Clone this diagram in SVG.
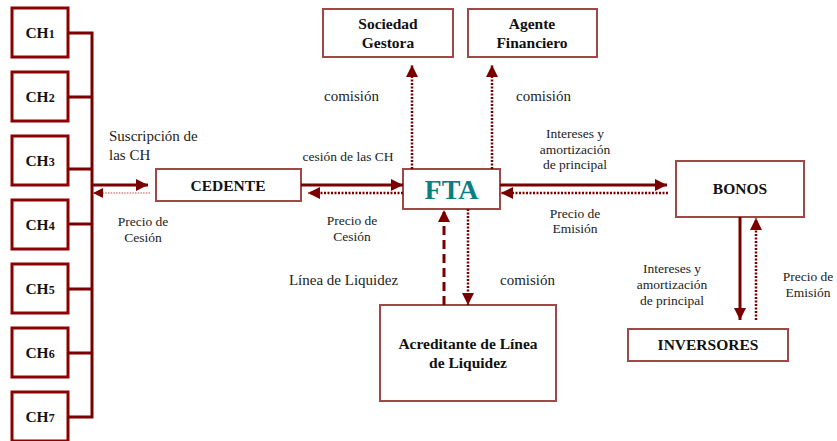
<svg xmlns="http://www.w3.org/2000/svg" width="837" height="441" viewBox="0 0 837 441">
<defs>
<marker id="ah" markerUnits="userSpaceOnUse" markerWidth="13" markerHeight="13" refX="12" refY="6" orient="auto" viewBox="0 0 13 13">
<path d="M0,0 L12,6 L0,12 z" fill="#7a0000" stroke="none"/>
</marker>
<marker id="ahs" markerUnits="userSpaceOnUse" markerWidth="11" markerHeight="11" refX="10" refY="5" orient="auto" viewBox="0 0 11 11">
<path d="M0,0 L10,5 L0,10 z" fill="#7a0000" stroke="none"/>
</marker>
</defs>
<style>
.box{fill:#fff;stroke:#a04848;stroke-width:2}
.chbox{fill:#fff;stroke:#8b0000;stroke-width:3}
.shadow{fill:none;stroke:#e8b8b8;stroke-width:1.5}
.nt{font-family:"Liberation Serif",serif;font-weight:bold;font-size:15.5px;fill:#111;text-anchor:middle}
.lbl{font-family:"Liberation Serif",serif;font-size:13.5px;fill:#222;text-anchor:middle}
.lbm{font-family:"Liberation Serif",serif;font-size:15px;fill:#222}
.solid{stroke:#7a0000;stroke-width:3;fill:none}
.dot{stroke:#7a0000;stroke-width:2.5;stroke-dasharray:2 1.5;fill:none}
.thin{stroke:#b05050;stroke-width:1.2;stroke-dasharray:1.5 1.2;fill:none}
.dash{stroke:#7a0000;stroke-width:3;stroke-dasharray:9 5;fill:none}
</style>

<g id="ch1"><rect class="chbox" x="12" y="8" width="56" height="49"/><text class="nt" x="40" y="38">CH<tspan font-size="12">1</tspan></text></g>
<g id="ch2"><rect class="chbox" x="12" y="72" width="56" height="49"/><text class="nt" x="40" y="102">CH<tspan font-size="12">2</tspan></text></g>
<g id="ch3"><rect class="chbox" x="12" y="136" width="56" height="49"/><text class="nt" x="40" y="166">CH<tspan font-size="12">3</tspan></text></g>
<g id="ch4"><rect class="chbox" x="12" y="200" width="56" height="49"/><text class="nt" x="40" y="230">CH<tspan font-size="12">4</tspan></text></g>
<g id="ch5"><rect class="chbox" x="12" y="264" width="56" height="49"/><text class="nt" x="40" y="294">CH<tspan font-size="12">5</tspan></text></g>
<g id="ch6"><rect class="chbox" x="12" y="328" width="56" height="49"/><text class="nt" x="40" y="358">CH<tspan font-size="12">6</tspan></text></g>
<g id="ch7"><rect class="chbox" x="12" y="392" width="56" height="49"/><text class="nt" x="40" y="422">CH<tspan font-size="12">7</tspan></text></g>

<g id="cedente"><rect class="box" x="156" y="169" width="145" height="32"/><text class="nt" x="228" y="191">CEDENTE</text></g>
<g id="fta"><rect class="box" x="403" y="169" width="97" height="40"/><text x="451.5" y="199" text-anchor="middle" font-family="Liberation Serif, serif" font-weight="bold" font-size="28" fill="#0a7f7f">FTA</text></g>
<g id="bonos"><rect class="box" x="676" y="161" width="128" height="56"/><text class="nt" x="740" y="194">BONOS</text></g>
<g id="inversores"><rect class="box" x="628" y="329" width="160" height="32"/><text class="nt" x="708" y="350">INVERSORES</text></g>
<g id="gestora"><rect class="box" x="323" y="9" width="130" height="48"/><text class="nt" x="388" y="29">Sociedad</text><text class="nt" x="388" y="48">Gestora</text></g>
<g id="agente"><rect class="box" x="468" y="9" width="129" height="48"/><text class="nt" x="532" y="29">Agente</text><text class="nt" x="532" y="48">Financiero</text></g>
<g id="acreditante"><rect class="box" x="380" y="305" width="176" height="96"/><text class="nt" x="468" y="349">Acreditante de Línea</text><text class="nt" x="468" y="368">de Liquidez</text></g>

<g id="connectors">
<path class="solid" d="M68,33 H92 M68,97 H92 M68,169 H92 M68,224 H92 M68,289 H92 M68,353 H92 M68,417 H92 M92,31.5 V418.5"/>
<line class="solid" x1="92" y1="185" x2="148" y2="185" marker-end="url(#ah)"/>
<line class="thin" x1="150" y1="193" x2="93" y2="193" marker-end="url(#ahs)"/>
<line class="solid" x1="301" y1="185" x2="403" y2="185" marker-end="url(#ah)"/>
<line class="dot" x1="403" y1="193" x2="308" y2="193" marker-end="url(#ah)"/>
<line class="solid" x1="500" y1="185" x2="667" y2="185" marker-end="url(#ah)"/>
<line class="dot" x1="668" y1="193" x2="501" y2="193" marker-end="url(#ah)"/>
<line class="dot" x1="412" y1="169" x2="412" y2="65" marker-end="url(#ah)"/>
<line class="dot" x1="492" y1="169" x2="492" y2="65" marker-end="url(#ah)"/>
<line class="dash" x1="444" y1="305" x2="444" y2="210" marker-end="url(#ah)"/>
<line class="dot" x1="468" y1="209" x2="468" y2="305" marker-end="url(#ah)"/>
<line class="solid" x1="740" y1="217" x2="740" y2="320" marker-end="url(#ah)"/>
<line class="dot" x1="756" y1="320" x2="756" y2="218" marker-end="url(#ah)"/>
</g>

<g id="labels">
<text class="lbm" x="109" y="141">Suscripción de</text>
<text class="lbm" x="109" y="160">las CH</text>
<text class="lbl" x="143" y="226">Precio de</text>
<text class="lbl" x="143" y="242">Cesión</text>
<text class="lbl" x="348" y="161">cesión de las CH</text>
<text class="lbl" x="352" y="225">Precio de</text>
<text class="lbl" x="352" y="241">Cesión</text>
<text class="lbm" x="351.5" y="101" text-anchor="middle">comisión</text>
<text class="lbm" x="543.5" y="101" text-anchor="middle">comisión</text>
<text class="lbl" x="575" y="138">Intereses y</text>
<text class="lbl" x="575" y="154">amortización</text>
<text class="lbl" x="575" y="169">de principal</text>
<text class="lbl" x="575" y="218">Precio de</text>
<text class="lbl" x="575" y="233">Emisión</text>
<text class="lbm" x="343.5" y="285" text-anchor="middle">Línea de Liquidez</text>
<text class="lbm" x="527.5" y="285" text-anchor="middle">comisión</text>
<text class="lbl" x="672" y="273">Intereses y</text>
<text class="lbl" x="672" y="289">amortización</text>
<text class="lbl" x="672" y="305">de principal</text>
<text class="lbl" x="808" y="281">Precio de</text>
<text class="lbl" x="808" y="297">Emisión</text>
</g>
</svg>
